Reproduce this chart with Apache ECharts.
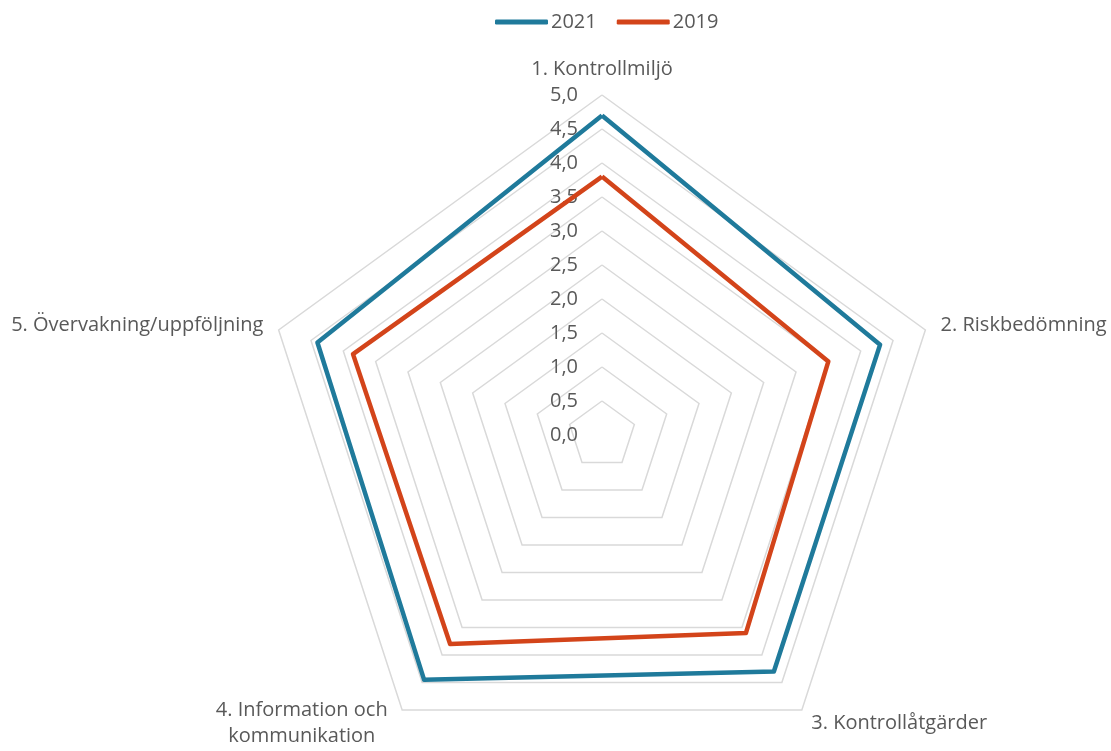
<!DOCTYPE html>
<html><head><meta charset="utf-8">
<script src="https://cdn.jsdelivr.net/npm/echarts@6/dist/echarts.min.js"></script>
<style>html,body{margin:0;padding:0;background:#fff}#c{width:1111px;height:751px}</style>
</head><body><div id="c"></div>
<script>
const categories = ['1. Kontrollmiljö', '2. Riskbedömning', '3. Kontrollåtgärder', '4. Information och\nkommunikation', '5. Övervakning/uppföljning'];
const values2021 = [4.7, 4.3, 4.3, 4.45, 4.4];
const values2019 = [3.8, 3.5, 3.6, 3.8, 3.85];
const seriesNames = ['2021', '2019'];
const axisMax = 5;

// ECharts radar runs counter-clockwise; reorder so categories run clockwise
const order = [0, 4, 3, 2, 1];
const reorder = arr => order.map(i => arr[i]);

const chart = echarts.init(document.getElementById('c'));
const font = '"Open Sans", sans-serif';
const fs = 20;
chart.setOption({
  animation: false,
  legend: {
    top: 7, left: 490,
    icon: 'roundRect', itemWidth: 53, itemHeight: 5, itemGap: 20,
    textStyle: { color: '#595959', fontSize: fs, fontFamily: font, padding: [0, 0, 0, -2] },
    data: seriesNames
  },
  radar: {
    center: [602, 435], radius: 340, shape: 'polygon',
    startAngle: 90, splitNumber: 10,
    axisName: {
      color: '#595959', fontSize: fs, fontFamily: font,
      formatter: function (v) {
        const lines = v.split('\n');
        if (lines.length === 1) return v;
        return lines.map(s => '{a|' + s + '}').join('\n');
      },
      rich: { a: { color: '#595959', fontSize: fs, fontFamily: font, lineHeight: 26, width: 182, align: 'center' } }
    },
    nameGap: 16,
    axisLine: { show: false },
    axisTick: { show: false },
    splitLine: { lineStyle: { color: '#d9d9d9', width: 1.5 } },
    splitArea: { show: false },
    axisLabel: { show: false },
    indicator: reorder(categories).map((c, i) => {
      const o = { name: c, min: 0, max: axisMax };
      if (i === 0) o.axisLabel = {
        show: true, color: '#595959', fontSize: fs, fontFamily: font, margin: 24,
        showMinLabel: true, showMaxLabel: true,
        formatter: v => v.toFixed(1).replace('.', ',')
      };
      return o;
    })
  },
  series: [{
    type: 'radar', symbol: 'none',
    data: [
      { name: seriesNames[0], value: reorder(values2021), lineStyle: { color: '#1f7a9b', width: 4.5 }, itemStyle: { color: '#1f7a9b' } },
      { name: seriesNames[1], value: reorder(values2019), lineStyle: { color: '#d3441a', width: 4.5 }, itemStyle: { color: '#d3441a' } }
    ]
  }]
});
</script></body></html>
